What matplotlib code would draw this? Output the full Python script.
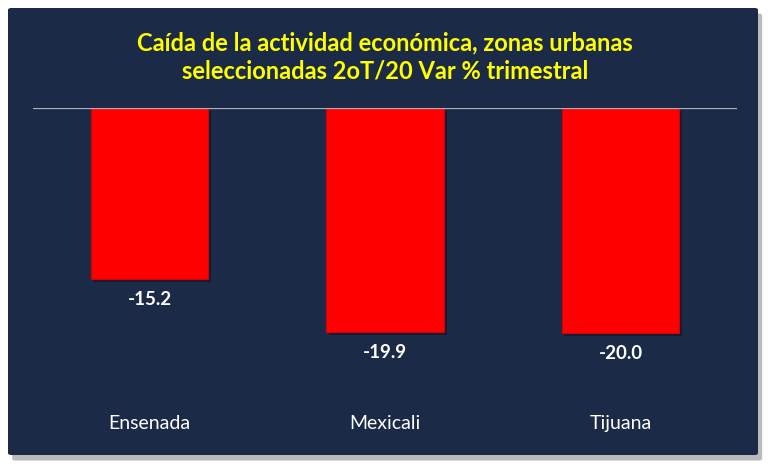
import matplotlib
matplotlib.use('Agg')
import matplotlib.pyplot as plt
from matplotlib.patches import FancyBboxPatch
import matplotlib.patheffects as pe

# data
ciudades = ['Ensenada', 'Mexicali', 'Tijuana']
variacion = [-15.2, -19.9, -20.0]
titulo = 'Caída de la actividad económica, zonas urbanas\nseleccionadas 2oT/20 Var % trimestral'

navy = '#1b2a47'
W, H = 770, 470

fig = plt.figure(figsize=(7.7, 4.7), dpi=100)
fig.patch.set_facecolor('white')

# dark panel with a soft shadow
panel = FancyBboxPatch((8 / W, 15 / H), 750 / W, 447 / H,
                       boxstyle='round,pad=0,rounding_size=0.004',
                       transform=fig.transFigure, facecolor=navy,
                       edgecolor='none', zorder=-1,
                       path_effects=[pe.SimplePatchShadow(offset=(3, -4), shadow_rgbFace='#555555', alpha=0.4),
                                     pe.Normal()])
fig.patches.append(panel)

fig.text(0.5, 1 - 57 / H, titulo, ha='center', va='center', color='#ffff00',
         fontsize=17, fontweight='bold', family='Lato', linespacing=1.25)

# axes: zero line at y=108px, ~11.25 px per unit
ax_top = 108
ax_bot = 405
ax = fig.add_axes([33 / W, 1 - ax_bot / H, 704 / W, (ax_bot - ax_top) / H])
ax.set_facecolor('none')
x = range(len(ciudades))
bars = ax.bar(x, variacion, width=0.5, color='#ff0000', edgecolor='#d80000', linewidth=0.8,
              zorder=2)
for b in bars:
    b.set_path_effects([pe.SimplePatchShadow(offset=(2, -2), shadow_rgbFace='black', alpha=0.3),
                        pe.Normal()])

ax.set_ylim(-(ax_bot - ax_top) / 11.25, 0)
ax.set_xlim(-0.4947, 2.4947)
ax.axhline(0, color='#a9b1bd', linewidth=0.9, zorder=3)

for xi, v in zip(x, variacion):
    ax.annotate(f'{v:.1f}', (xi, v), xytext=(0, -12), textcoords='offset pixels',
                ha='center', va='top', color='white', fontsize=13.5, fontweight='bold',
                family='Lato')

ax.set_xticks(list(x))
ax.set_xticklabels(ciudades, color='white', fontsize=14, family='Lato')
ax.tick_params(axis='x', length=0, pad=7)
ax.set_yticks([])
for s in ax.spines.values():
    s.set_visible(False)

fig.savefig('out.png', dpi=100, facecolor=fig.get_facecolor())
